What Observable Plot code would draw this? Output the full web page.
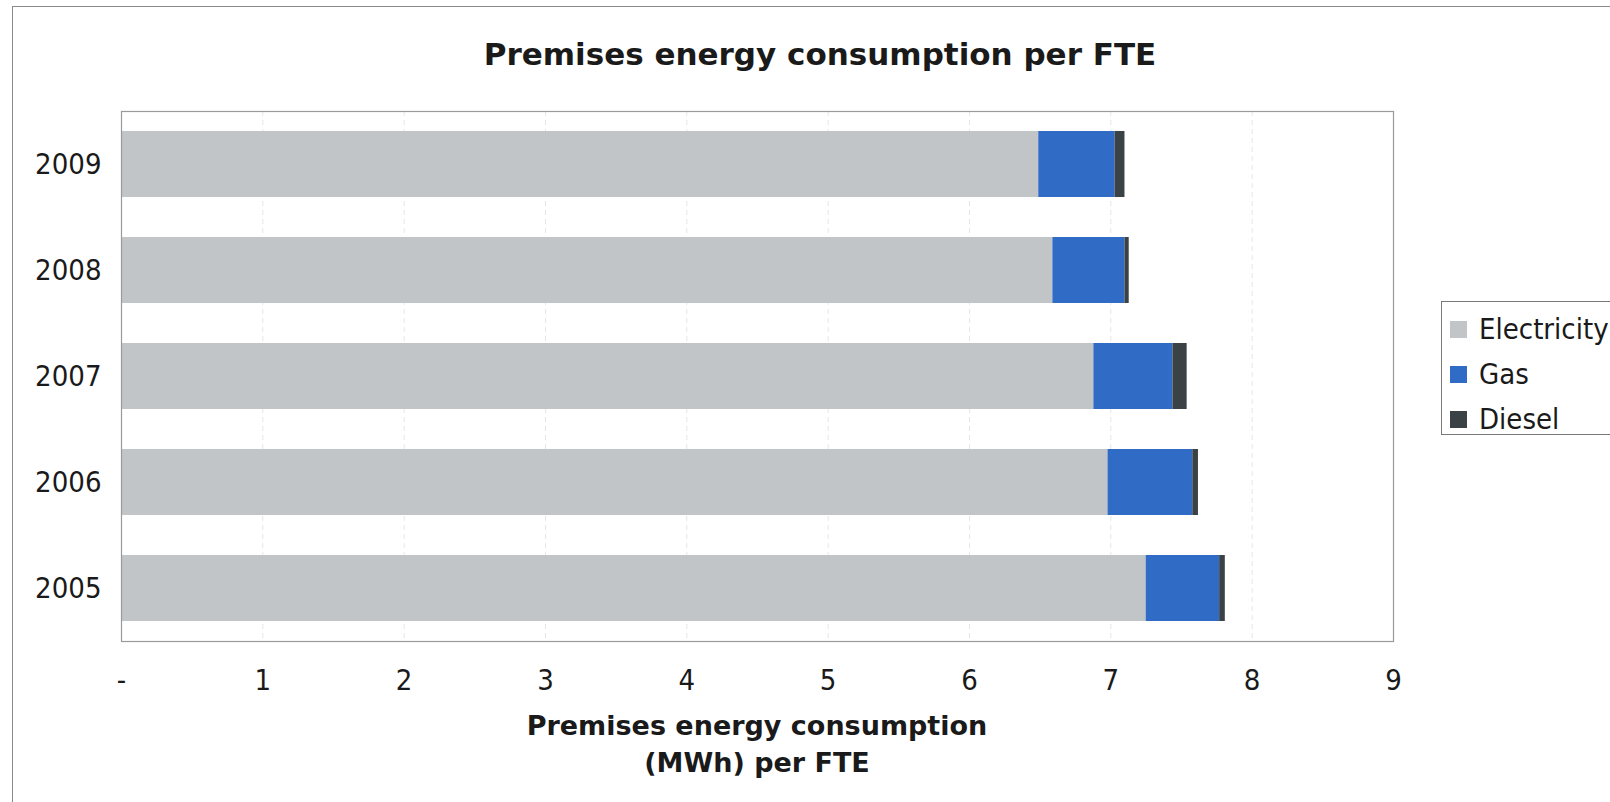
<!DOCTYPE html>
<html>
<head>
<meta charset="utf-8">
<script src="https://cdn.jsdelivr.net/npm/d3@7"></script>
<script src="https://cdn.jsdelivr.net/npm/@observablehq/plot@0.6"></script>
<style>
  html, body { margin: 0; padding: 0; background: #fff; }
  #wrap { position: relative; width: 1610px; height: 802px; overflow: hidden; font-family: "DejaVu Sans Condensed", "DejaVu Sans", sans-serif; }
  #outer { position: absolute; left: 12px; top: 6px; width: 1700px; height: 900px; border: 1.5px solid #8a8a8a; box-sizing: border-box; }
  #title { position: absolute; left: 0; width: 1640px; top: 36px; text-align: center; font-family: "DejaVu Sans", sans-serif; font-weight: bold; font-size: 31px; color: #1a1a1a; }
  #xtitle { position: absolute; left: 457px; width: 600px; top: 707px; text-align: center; font-family: "DejaVu Sans", sans-serif; font-weight: bold; font-size: 27px; line-height: 37px; color: #1a1a1a; }
  #legend { position: absolute; left: 1441px; top: 301px; width: 200px; height: 134px; border: 1.5px solid #7a7a7a; box-sizing: border-box; }
  .item { position: absolute; left: 8px; font-size: 29px; color: #1a1a1a; white-space: nowrap; }
  .sw { display: inline-block; width: 17px; height: 17px; margin-right: 12px; vertical-align: 1px; }
  #chart { position: absolute; left: 0; top: 0; }
</style>
</head>
<body>
<div id="wrap">
  <div id="outer"></div>
  <div id="chart"></div>
  <div id="title">Premises energy consumption per FTE</div>
  <div id="xtitle">Premises energy consumption<br>(MWh) per FTE</div>
  <div id="legend"></div>
</div>
<script>
const years = ["2009", "2008", "2007", "2006", "2005"];
const series = ["Electricity", "Gas", "Diesel"];
const electricity = [6.49, 6.59, 6.88, 6.98, 7.25];
const gas = [0.54, 0.51, 0.56, 0.60, 0.52];
const diesel = [0.07, 0.03, 0.10, 0.04, 0.04];
const colors = ["#c2c5c8", "#306cc6", "#3b4246"];
const xTicks = [0, 1, 2, 3, 4, 5, 6, 7, 8, 9];

const values = {Electricity: electricity, Gas: gas, Diesel: diesel};
const data = [];
years.forEach((y, i) => series.forEach(s => data.push({year: y, type: s, value: values[s][i]})));

const chart = Plot.plot({
  width: 1610,
  height: 802,
  marginLeft: 121,
  marginRight: 217,
  marginTop: 111,
  marginBottom: 161,
  style: {fontFamily: '"DejaVu Sans Condensed", "DejaVu Sans", sans-serif', fontSize: "29px", color: "#1a1a1a", background: "transparent"},
  x: {domain: [0, 9], ticks: xTicks, tickSize: 0, tickPadding: 28, label: null, tickFormat: d => d === 0 ? "-" : String(d)},
  y: {domain: years, paddingInner: 0.38, paddingOuter: 0.19, tickSize: 0, tickPadding: 20, label: null},
  color: {domain: series, range: colors},
  marks: [
    Plot.ruleX(xTicks.slice(1, -1), {stroke: "#e6e6e6", strokeDasharray: "5,4"}),
    Plot.barX(data, Plot.stackX({y: "year", x: "value", fill: "type", order: series})),
    Plot.frame({stroke: "#9a9a9a", strokeWidth: 1.2})
  ]
});
document.getElementById("chart").appendChild(chart);

const legend = document.getElementById("legend");
series.forEach((s, i) => {
  const d = document.createElement("div");
  d.className = "item";
  d.style.top = (10 + i * 45) + "px";
  d.innerHTML = `<span class="sw" style="background:${colors[i]}"></span>${s}`;
  legend.appendChild(d);
});
</script>
</body>
</html>
